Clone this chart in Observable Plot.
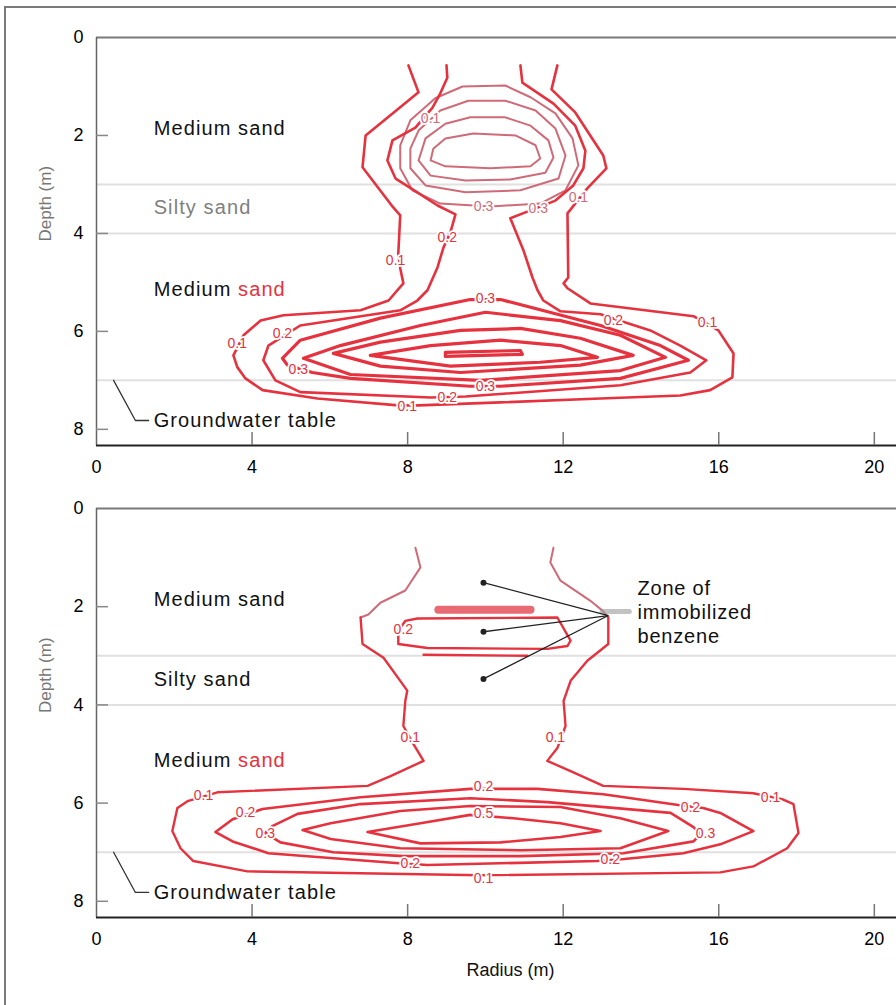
<!DOCTYPE html>
<html><head><meta charset="utf-8">
<script src="https://cdn.jsdelivr.net/npm/d3@7"></script>
<script src="https://cdn.jsdelivr.net/npm/@observablehq/plot@0.6"></script>
<style>
body{margin:0;background:#fff;}
#wrap{position:relative;width:896px;height:1005px;overflow:hidden;background:#fff;}
#wrap svg{display:block}
#border{position:absolute;left:4px;top:6px;width:1000px;height:1100px;border-left:2px solid #7a7a7a;border-top:2px solid #7a7a7a;pointer-events:none}
</style></head><body><div id="wrap"></div>
<script>
// ---------- axes / layers ----------
const xTicks = [0, 4, 8, 12, 16, 20];
const yTicks = [0, 2, 4, 6, 8];
const layerBounds = [3, 4, 7];
const layerNames = ["Medium sand", "Silty sand", "Medium sand"];
const layerDepths = [1.86, 3.48, 5.14];
const layerX = 1.47;
const gwLabel = "Groundwater table";
const gwLeader = [[0.44, 7.0], [1.0, 7.82], [1.34, 7.82]];

// ---------- panel 1 contours (x = radius m, d = depth m) ----------
const p1_c01 = [[8.02,0.57],[8.28,1.12],[6.92,2.00],[6.84,2.65],[7.63,3.47],[7.81,3.63],[7.76,4.41],[7.81,4.71],[7.89,5.02],[7.51,5.37],[6.79,5.57],[4.81,5.67],[4.22,5.78],[3.78,6.08],[3.52,6.49],[3.62,6.73],[3.83,6.96],[4.27,7.20],[5.68,7.37],[7.76,7.51],[8.28,7.51],[10.39,7.45],[12.96,7.37],[15.01,7.31],[15.78,7.20],[16.35,6.94],[16.38,6.45],[15.99,5.98],[15.35,5.69],[12.70,5.43],[12.11,5.12],[12.01,5.02],[12.13,4.90],[12.11,3.59],[12.62,3.08],[13.11,2.67],[13.03,2.41],[12.31,1.53],[11.70,1.06],[11.85,0.57]];
const p1_c02 = [[9.00,0.57],[9.02,0.82],[8.84,1.14],[8.64,1.43],[8.20,1.84],[7.61,2.10],[7.48,2.51],[7.69,2.88],[8.25,3.16],[8.77,3.43],[9.23,3.61],[9.10,3.98],[8.92,4.29],[8.77,4.69],[8.51,5.16],[8.25,5.37],[7.81,5.57],[5.24,5.88],[4.42,6.29],[4.29,6.59],[4.60,7.00],[5.24,7.24],[8.59,7.35],[9.49,7.33],[13.47,7.10],[15.27,6.84],[15.68,6.59],[15.01,6.29],[14.24,5.98],[13.60,5.82],[12.96,5.65],[11.93,5.59],[11.49,5.37],[11.34,5.16],[11.21,4.90],[10.98,4.35],[10.64,3.69],[11.16,3.53],[11.80,3.33],[12.26,3.02],[12.52,2.67],[12.57,2.31],[12.31,1.80],[11.75,1.35],[10.95,0.92],[10.90,0.57]];
const p1_up1 = [[8.66,2.27],[8.97,2.06],[9.69,1.96],[10.77,2.00],[11.29,2.20],[11.41,2.47],[11.16,2.63],[10.13,2.67],[8.97,2.63],[8.59,2.51],[8.66,2.27]];
const p1_up2 = [[8.46,2.06],[8.97,1.76],[9.61,1.63],[10.51,1.63],[11.16,1.80],[11.62,2.10],[11.75,2.45],[11.54,2.76],[10.64,2.90],[9.49,2.92],[8.59,2.82],[8.28,2.51],[8.46,2.06]];
const p1_up3 = [[8.28,1.90],[8.84,1.49],[9.56,1.29],[10.51,1.29],[11.29,1.49],[11.80,1.86],[12.06,2.41],[11.88,2.88],[10.90,3.12],[9.49,3.16],[8.46,3.02],[8.07,2.67],[8.07,2.27],[8.28,1.90]];
const p1_up4 = [[8.07,1.69],[8.71,1.24],[9.41,1.00],[10.51,0.98],[11.16,1.22],[11.80,1.55],[12.24,2.06],[12.39,2.61],[12.06,3.12],[11.41,3.39],[10.13,3.45],[8.84,3.39],[8.12,3.12],[7.81,2.67],[7.81,2.20],[8.07,1.69]];
const p1_c03 = [[10.39,5.35],[9.61,5.35],[7.30,5.73],[5.24,6.18],[4.78,6.55],[4.91,6.69],[5.55,6.84],[6.53,6.96],[9.61,7.12],[10.39,7.12],[13.47,6.96],[15.22,6.59],[14.50,6.29],[12.96,5.88],[10.39,5.35]];
const p1_c04 = [[5.32,6.55],[6.27,6.29],[8.33,5.88],[10.0,5.61],[11.93,5.78],[13.47,6.08],[14.63,6.53],[13.47,6.80],[9.87,7.00],[6.53,6.88],[5.32,6.55]];
const p1_c05 = [[6.09,6.45],[7.30,6.22],[9.36,5.98],[10.90,5.94],[12.44,6.14],[13.80,6.49],[12.44,6.69],[9.36,6.84],[7.30,6.71],[6.09,6.45]];
const p1_c06 = [[7.04,6.49],[8.59,6.29],[10.39,6.18],[11.93,6.29],[12.88,6.53],[11.41,6.63],[9.10,6.71],[7.04,6.49]];
const p1_c07 = [[8.97,6.43],[10.90,6.39],[10.95,6.47],[8.97,6.51],[8.97,6.43]];
const p1_labelsUpper = [[8.59,1.65,"0.1"],[12.39,3.27,"0.1"],[9.95,3.45,"0.3"],[11.36,3.49,"0.3"]];
const p1_labels = [[9.02,4.08,"0.2"],[7.69,4.55,"0.1"],[10.0,5.33,"0.3"],[4.78,6.04,"0.2"],[3.62,6.24,"0.1"],[5.19,6.78,"0.3"],[13.29,5.78,"0.2"],[15.71,5.82,"0.1"],[10.0,7.12,"0.3"],[9.02,7.35,"0.2"],[7.99,7.53,"0.1"]];

// ---------- panel 2 contours ----------
const p2_tailL = [[8.20,0.80],[8.33,1.20],[7.94,1.67],[7.30,1.92],[6.99,2.16],[6.79,2.22]];
const p2_tailR = [[11.75,0.80],[11.67,1.10],[11.93,1.47],[12.70,1.88],[13.01,2.08],[13.16,2.22]];
const p2_c01 = [[6.79,2.22],[6.84,2.76],[7.38,3.04],[7.81,3.51],[7.99,3.71],[7.94,3.92],[7.89,4.43],[8.15,4.80],[8.41,5.14],[7.56,5.45],[6.97,5.65],[3.11,5.78],[2.34,5.96],[2.08,6.10],[1.95,6.57],[2.16,6.92],[2.49,7.18],[3.88,7.39],[9.87,7.47],[16.04,7.41],[16.89,7.29],[17.76,6.92],[18.05,6.61],[17.92,6.02],[17.63,5.92],[16.89,5.80],[15.09,5.71],[13.03,5.65],[12.19,5.35],[11.59,5.14],[11.85,4.88],[12.06,4.43],[12.01,3.92],[12.19,3.51],[12.62,3.10],[13.16,2.76],[13.16,2.22]];
const p2_up02 = [[8.25,2.24],[11.85,2.22],[12.19,2.69],[12.11,2.80],[11.59,2.86],[8.51,2.84],[7.76,2.76],[7.76,2.49],[7.94,2.29],[8.25,2.24]];
const p2_upBase = [[8.41,2.98],[11.08,3.00]];
const p2_bar = [[8.79,2.06],[11.16,2.06]];
const p2_c02 = [[10.26,5.71],[9.61,5.71],[6.79,5.88],[4.27,6.12],[3.50,6.33],[3.06,6.59],[3.50,6.78],[4.42,7.02],[7.69,7.22],[8.51,7.26],[12.88,7.18],[13.57,7.14],[15.09,7.02],[16.04,6.84],[16.89,6.57],[16.04,6.20],[15.60,6.10],[14.96,6.04],[13.03,5.82],[11.34,5.71],[10.26,5.71]];
const p2_c03 = [[9.61,5.90],[6.79,6.02],[5.17,6.22],[4.52,6.47],[4.34,6.61],[4.73,6.80],[6.09,7.00],[7.89,7.08],[10.90,7.08],[13.55,7.02],[15.35,6.78],[15.53,6.63],[15.35,6.49],[14.76,6.20],[11.59,5.98],[9.61,5.90]];
const p2_c04 = [[5.30,6.55],[6.02,6.41],[7.81,6.16],[9.61,6.06],[11.93,6.08],[13.47,6.31],[14.70,6.57],[13.47,6.92],[10.90,6.96],[7.81,6.92],[6.02,6.73],[5.30,6.55]];
const p2_c05 = [[9.61,6.24],[10.72,6.31],[11.93,6.41],[12.96,6.57],[11.93,6.69],[10.39,6.80],[8.33,6.82],[6.97,6.59],[8.33,6.41],[9.61,6.24]];
const p2_labels = [[7.89,2.47,"0.2"],[8.07,4.67,"0.1"],[11.80,4.67,"0.1"],[2.75,5.84,"0.1"],[17.33,5.88,"0.1"],[9.95,7.53,"0.1"],[9.95,5.67,"0.2"],[3.83,6.20,"0.2"],[15.27,6.08,"0.2"],[8.07,7.24,"0.2"],[13.21,7.14,"0.2"],[4.34,6.61,"0.3"],[15.66,6.61,"0.3"],[9.95,6.22,"0.5"]];

// ---------- annotation ----------
const zoneDots = [[9.95,1.51],[9.95,2.51],[9.95,3.47]];
const zoneHub = [13.16, 2.18];
const zoneFade = [[13.0,2.10],[13.7,2.10]];
const zoneLines = ["Zone of", "immobilized", "benzene"];
const zoneLineDepths = [1.63, 2.12, 2.61];
const zoneX = 13.91;

// ---------- drawing ----------
const RED = "#e6323e", PINK = "#cf6b78";
const FONT = "'Liberation Sans', Arial, Helvetica, sans-serif";
const W = 896, ML = 96, X_MAX = 20.57, Y_MAX = 8.33;

const rows = (series) => series.flatMap((pts, i) => pts.map(([x, d]) => ({id: i, x, d})));
const lines = (series, stroke, w) => Plot.line(rows(series), {x: "x", y: "d", z: "id", stroke, strokeWidth: w, strokeLinejoin: "round", strokeLinecap: "round"});
const labels = (arr, fill) => Plot.text(arr, {x: d => d[0], y: d => d[1], text: d => d[2], fill, stroke: "white", strokeWidth: 3.5, fontSize: 14});
const tag = (name) => () => name;

function frameMarks(plotH, silty) {
  return [
    Plot.ruleY(layerBounds, {stroke: "#e0e0e0", strokeWidth: 2}),
    Plot.ruleY([0], {stroke: "#7a7a7a", strokeWidth: 2}),
    Plot.ruleX([0], {stroke: "#666", strokeWidth: 1.5}),
    Plot.ruleY([Y_MAX], {stroke: "#222", strokeWidth: 2}),
    Plot.ruleX(xTicks.filter(t => t > 0), {insetTop: plotH - 13, stroke: "#777", strokeWidth: 1.5}),
    Plot.ruleY(yTicks.filter(t => t > 0), {insetRight: (W - ML) - 12, stroke: "#888", strokeWidth: 1.5}),
    Plot.axisX({ticks: xTicks, tickSize: 0, tickPadding: 15, fontSize: 18, label: null}),
    Plot.axisY({ticks: yTicks, tickSize: 0, tickPadding: 13, fontSize: 18, label: null}),
    Plot.text(["Depth (m)"], {text: d => d, frameAnchor: "left", dx: -51, rotate: -90, fontSize: 17, fill: "#777"}),
    Plot.text([0, 2], {x: layerX, y: d => layerDepths[d], text: d => layerNames[d], textAnchor: "start", fontSize: 20, fill: "#111", ariaLabel: d => d === 2 ? "layer-sand" : "layer"}),
    Plot.text([1], {x: layerX, y: d => layerDepths[d], text: d => layerNames[d], textAnchor: "start", fontSize: 20, fill: silty, ariaLabel: tag("layer")}),
    Plot.line(gwLeader, {x: d => d[0], y: d => d[1], stroke: "#333", strokeWidth: 1.3}),
    Plot.text([gwLabel], {text: d => d, x: layerX, y: gwLeader[2][1], textAnchor: "start", fontSize: 20, fill: "#111", ariaLabel: tag("layer")})
  ];
}

function makePlot(h, mt, mb, marks) {
  return Plot.plot({
    width: W, height: h, marginTop: mt, marginBottom: mb, marginLeft: ML, marginRight: 0,
    x: {domain: [0, X_MAX]}, y: {domain: [0, Y_MAX], reverse: true},
    style: {fontFamily: FONT, fontSize: "18px", background: "transparent", overflow: "visible"},
    marks
  });
}

function postProcess(svg) {
  const s = d3.select(svg);
  s.selectAll('text[aria-label="layer"], text[aria-label="layer-sand"]').attr("letter-spacing", "1.1px");
  s.selectAll('text[aria-label="layer-sand"]').each(function () {
    const t = d3.select(this);
    const txt = t.text();
    const i = txt.lastIndexOf(" ");
    t.text(null);
    t.append("tspan").text(txt.slice(0, i));
    t.append("tspan").attr("fill", RED).text("\u00a0" + txt.slice(i + 1));
  });
  s.selectAll('text[aria-label="zone"]').attr("letter-spacing", "0.8px");
}

const wrap = document.getElementById("wrap");

// Panel 1
const h1 = 480, mt1 = 37, mb1 = 35;
const svg1 = makePlot(h1, mt1, mb1, [
  ...frameMarks(h1 - mt1 - mb1, "#808080"),
  lines([p1_up1, p1_up2, p1_up3, p1_up4], PINK, 2),
  lines([p1_c01, p1_c02], RED, 2.6),
  lines([p1_c03, p1_c04, p1_c05, p1_c06, p1_c07], RED, 3.2),
  labels(p1_labelsUpper, PINK),
  labels(p1_labels, RED)
]);
postProcess(svg1);
wrap.appendChild(svg1);

// Panel 2
const h2 = 525, mt2 = 28, mb2 = 88;
const svg2 = makePlot(h2, mt2, mb2, [
  ...frameMarks(h2 - mt2 - mb2, "#111"),
  lines([p2_tailL, p2_tailR], PINK, 2),
  Plot.line(p2_bar, {x: d => d[0], y: d => d[1], stroke: "#e4505a", strokeWidth: 8, strokeOpacity: 0.85}),
  lines([p2_c01, p2_up02, p2_upBase], RED, 2.4),
  lines([p2_c02, p2_c03, p2_c04, p2_c05], RED, 2.6),
  labels(p2_labels, RED),
  Plot.line(zoneFade, {x: d => d[0], y: d => d[1], stroke: "#999", strokeWidth: 5, strokeOpacity: 0.6}),
  Plot.link(zoneDots, {x1: d => d[0], y1: d => d[1], x2: zoneHub[0], y2: zoneHub[1], stroke: "#222", strokeWidth: 1.3}),
  Plot.dot(zoneDots, {x: d => d[0], y: d => d[1], r: 3, fill: "#222"}),
  Plot.text(zoneLines, {x: zoneX, y: (d, i) => zoneLineDepths[i], text: d => d, textAnchor: "start", fontSize: 20, fill: "#111", ariaLabel: tag("zone")}),
  Plot.text(["Radius (m)"], {text: d => d, frameAnchor: "bottom", dx: 14, dy: 53, lineAnchor: "middle", fontSize: 18, fill: "#111"})
]);
postProcess(svg2);
wrap.appendChild(svg2);

const border = document.createElement("div");
border.id = "border";
wrap.appendChild(border);
</script>
</body></html>
